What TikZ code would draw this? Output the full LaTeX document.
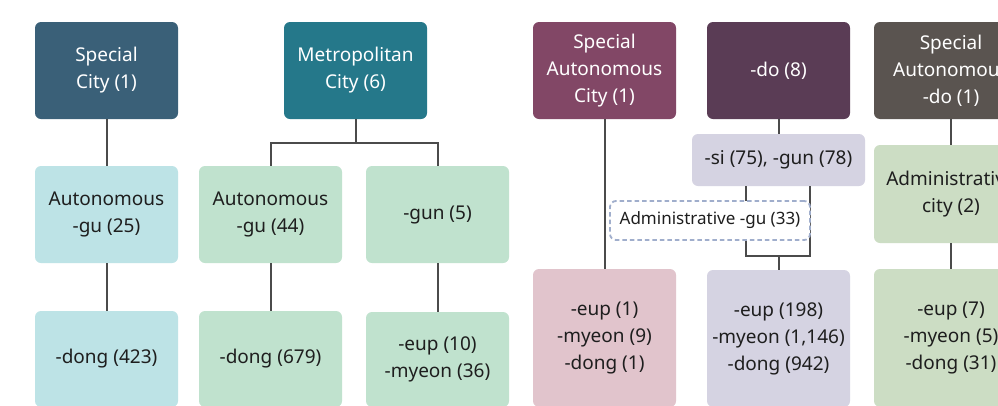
\documentclass[tikz,border=0pt]{standalone}
\usepackage{fontspec}
\setmainfont{Noto Sans}
\usetikzlibrary{positioning}

\definecolor{cSpecial}{RGB}{58,96,120}
\definecolor{cMetro}{RGB}{37,120,138}
\definecolor{cSAC}{RGB}{130,71,102}
\definecolor{cDo}{RGB}{90,60,85}
\definecolor{cSAD}{RGB}{90,84,80}
\definecolor{cBlueL}{RGB}{189,227,230}
\definecolor{cGreenL}{RGB}{192,226,206}
\definecolor{cPinkL}{RGB}{225,196,204}
\definecolor{cLav}{RGB}{213,211,226}
\definecolor{cSage}{RGB}{204,221,196}
\definecolor{cDash}{RGB}{160,174,204}
\definecolor{cLine}{RGB}{75,75,75}
\definecolor{cText}{RGB}{30,30,30}

\begin{document}
\begin{tikzpicture}[
    x=1pt, y=-1pt,
    unit/.style={rectangle, rounded corners=6pt, align=center, minimum width=143pt, inner sep=2pt, text=cText, font=\fontsize{19}{27}\selectfont},
    top/.style={unit, minimum height=97pt, text=white},
    link/.style={draw=cLine, line width=2pt},
]

%Background
\useasboundingbox (0,0) rectangle (998,405);
\clip (0,0) rectangle (998,405);
\fill[white] (0,0) rectangle (998,405);

% Top level
\node[top, fill=cSpecial] (special) at (106.5,70.5) {Special\\City (1)};
\node[top, fill=cMetro] (metro) at (355.5,70.5) {Metropolitan\\City (6)};
\node[top, fill=cSAC] (sacity) at (604.5,70.5) {Special\\Autonomous\\City (1)};
\node[top, fill=cDo] (do) at (778.5,70.5) {-do (8)};
\node[top, fill=cSAD, minimum width=154pt] (sado) at (951,70.5) {Special\\Autonomous\\-do (1)};

% Second level
\node[unit, fill=cBlueL, minimum height=97pt] (autogu_s) at (106.5,214.5) {Autonomous\\-gu (25)};
\node[unit, fill=cGreenL, minimum height=97pt] (autogu_m) at (270.5,214.5) {Autonomous\\-gu (44)};
\node[unit, fill=cGreenL, minimum height=97pt] (gun_m) at (437.5,214.5) {-gun (5)};
\node[unit, fill=cLav, minimum width=173pt, minimum height=52pt] (sigun) at (778.5,160) {-si (75), -gun (78)};
\node[unit, fill=cSage, minimum width=154pt, minimum height=98pt] (admcity) at (951,194) {Administrative\\city (2)};

% Third level
\node[unit, fill=cBlueL, minimum height=96pt] (dong_s) at (106.5,359) {-dong (423)};
\node[unit, fill=cGreenL, minimum height=96pt] (dong_m) at (270.5,359) {-dong (679)};
\node[unit, fill=cGreenL, minimum height=95pt] (eupmyeon_m) at (437.5,359.5) {-eup (10)\\-myeon (36)};
\node[unit, fill=cPinkL, minimum height=138pt] (eup_sac) at (604.5,338) {-eup (1)\\-myeon (9)\\-dong (1)};
\node[unit, fill=cLav, minimum height=137pt] (eup_do) at (778.5,338.5) {-eup (198)\\-myeon (1,146)\\-dong (942)};
\node[unit, fill=cSage, minimum width=154pt, minimum height=138pt] (eup_sad) at (951,338) {-eup (7)\\-myeon (5)\\-dong (31)};

% Connectors
\draw[link] (special) -- (autogu_s);
\draw[link] (autogu_s) -- (dong_s);
\draw[link] (metro.south) -- ++(0,24) -| (autogu_m.north);
\draw[link] (metro.south) -- ++(0,24) -| (gun_m.north);
\draw[link] (autogu_m) -- (dong_m);
\draw[link] (gun_m) -- (eupmyeon_m);
\draw[link] (sacity) -- (eup_sac);
\draw[link] (do) -- (sigun);
\coordinate (join) at (778.5,256);
\draw[link] ([xshift=-32.5pt]sigun.south) |- (join) -| ([xshift=31.5pt]sigun.south);
\draw[link] (join) -- (eup_do);
\draw[link] (sado) -- (admcity);
\draw[link] (admcity) -- (eup_sad);

% Administrative -gu (over the line)
\node[unit, fill=white, draw=cDash, line width=1.8pt, dash pattern=on 4.5pt off 3pt, minimum width=200pt, minimum height=39pt, font=\fontsize{17}{20}\selectfont] (admgu) at (710,220.5) {Administrative -gu (33)};

\end{tikzpicture}
\end{document}
